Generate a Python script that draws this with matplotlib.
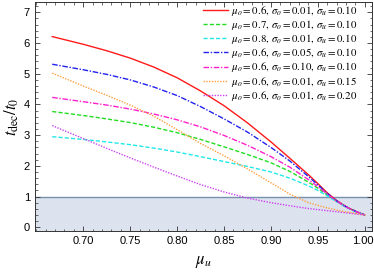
import matplotlib
matplotlib.use("Agg")
import matplotlib.pyplot as plt
import matplotlib.transforms as mtransforms
from matplotlib.ticker import MultipleLocator, FormatStrFormatter

plt.rcParams["font.family"] = ["Liberation Sans", "DejaVu Sans"]
plt.rcParams["mathtext.fontset"] = "stix"

# ---------------------------------------------------------------------
#  Data
# ---------------------------------------------------------------------
mu_u = [0.667, 0.70, 0.725, 0.75, 0.775, 0.80, 0.825, 0.85, 0.875,
        0.90, 0.92, 0.94, 0.95, 0.96, 0.97, 0.98, 0.99, 1.00]

red = [6.21, 5.96, 5.75, 5.51, 5.22, 4.87, 4.44, 3.96, 3.40,
       2.78, 2.25, 1.71, 1.42, 1.12, 0.87, 0.67, 0.52, 0.40]
green = [3.77, 3.64, 3.53, 3.41, 3.26, 3.08, 2.86, 2.62, 2.37,
         2.10, 1.82, 1.47, 1.27, 1.05, 0.84, 0.66, 0.52, 0.40]
cyan = [2.95, 2.86, 2.78, 2.69, 2.58, 2.45, 2.30, 2.14, 1.98,
        1.80, 1.60, 1.35, 1.20, 1.02, 0.83, 0.65, 0.51, 0.40]
blue = [5.31, 5.13, 4.98, 4.80, 4.57, 4.29, 3.93, 3.53, 3.10,
        2.60, 2.16, 1.65, 1.38, 1.10, 0.86, 0.67, 0.52, 0.40]
magenta = [4.23, 4.09, 3.98, 3.85, 3.69, 3.50, 3.27, 2.99, 2.67,
           2.30, 1.96, 1.55, 1.32, 1.08, 0.85, 0.66, 0.52, 0.40]
orange = [5.02, 4.60, 4.30, 3.98, 3.62, 3.18, 2.73, 2.33, 1.90,
          1.45, 1.08, 0.80, 0.71, 0.63, 0.56, 0.50, 0.45, 0.40]
purple = [3.31, 2.89, 2.57, 2.26, 1.96, 1.67, 1.39, 1.15, 0.95,
          0.80, 0.70, 0.61, 0.575, 0.54, 0.505, 0.47, 0.435, 0.40]

labels = [
    r"$\mu_o = 0.6,\, \sigma_o = 0.01,\, \sigma_u = 0.10$",
    r"$\mu_o = 0.7,\, \sigma_o = 0.01,\, \sigma_u = 0.10$",
    r"$\mu_o = 0.8,\, \sigma_o = 0.01,\, \sigma_u = 0.10$",
    r"$\mu_o = 0.6,\, \sigma_o = 0.05,\, \sigma_u = 0.10$",
    r"$\mu_o = 0.6,\, \sigma_o = 0.10,\, \sigma_u = 0.10$",
    r"$\mu_o = 0.6,\, \sigma_o = 0.01,\, \sigma_u = 0.15$",
    r"$\mu_o = 0.6,\, \sigma_o = 0.01,\, \sigma_u = 0.20$",
]
x_ticks = [0.70, 0.75, 0.80, 0.85, 0.90, 0.95, 1.00]
y_ticks = [0, 1, 2, 3, 4, 5, 6, 7]

series = [red, green, cyan, blue, magenta, orange, purple]
colors = ["#ff1a1a", "#22dd22", "#22e8e8", "#2222ee", "#ff22cc", "#ffa040", "#cc44ee"]
styles = ["-", (0, (3, 1.5)), (0, (3, 1.5)), (0, (4, 1.2, 1, 1.2)),
          (0, (4, 1.2, 1, 1.2)), (0, (1, 1)), (0, (1, 1))]

fig = plt.figure(figsize=(3.74, 2.72), dpi=100)
ax = fig.add_axes([0.093, 0.151, 0.902, 0.842])

# shaded region below t_dec/t_0 = 1
ax.axhspan(-1, 1, color="#dde3ee", zorder=0, lw=0)
ax.axhline(1, color="#7890b0", lw=1.0, zorder=1)

for y, c, ls, lab in zip(series, colors, styles, labels):
    ax.plot(mu_u, y, color=c, ls=ls, lw=1.0, label=lab, zorder=3)

ax.set_xlim(0.6484, 1.0078)
ax.set_ylim(-0.12, 7.34)
ax.set_xticks(x_ticks)
ax.set_yticks(y_ticks)
ax.xaxis.set_major_formatter(FormatStrFormatter("%.2f"))
ax.xaxis.set_minor_locator(MultipleLocator(0.01))
ax.yaxis.set_minor_locator(MultipleLocator(0.2))
ax.tick_params(which="both", direction="in", top=True, right=True,
               labelsize=8, color="#333333")
ax.tick_params(which="major", length=3.5, width=0.6)
ax.tick_params(which="minor", length=1.8, width=0.5)
for s in ax.spines.values():
    s.set_linewidth(0.7)
    s.set_color("#333333")

# nudge the last x label so it stays inside the canvas
last = ax.get_xticklabels()[-1]
last.set_transform(last.get_transform() +
                   mtransforms.ScaledTranslation(-2 / 100, 0, fig.dpi_scale_trans))

ax.set_xlabel(r"$\mu_u$", fontsize=12, labelpad=6)
ax.set_ylabel(r"$t_{\rm dec}/t_0$", fontsize=12, labelpad=2)

ax.legend(loc="upper right", bbox_to_anchor=(0.96, 1.0), frameon=False,
          fontsize=7.8, handlelength=2.3, handletextpad=0.3,
          labelspacing=0.02, borderaxespad=0.0, borderpad=0.15)

fig.savefig("out.png", dpi=100)
